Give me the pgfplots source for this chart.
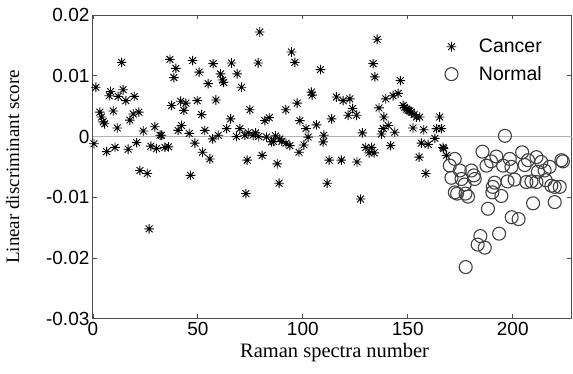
\documentclass[border=0pt]{standalone}
\usepackage{fontspec}
\setmainfont{Liberation Sans}
\newfontfamily\tnr{Liberation Serif}
\usepackage{pgfplots}
\pgfplotsset{compat=1.18}
\pgfdeclareplotmark{mstar}{%
  \pgfpathmoveto{\pgfpointpolar{0}{\pgfplotmarksize}}\pgfpathlineto{\pgfpointpolar{180}{\pgfplotmarksize}}%
  \pgfpathmoveto{\pgfpointpolar{45}{\pgfplotmarksize}}\pgfpathlineto{\pgfpointpolar{225}{\pgfplotmarksize}}%
  \pgfpathmoveto{\pgfpointpolar{90}{\pgfplotmarksize}}\pgfpathlineto{\pgfpointpolar{270}{\pgfplotmarksize}}%
  \pgfpathmoveto{\pgfpointpolar{135}{\pgfplotmarksize}}\pgfpathlineto{\pgfpointpolar{315}{\pgfplotmarksize}}%
  \pgfusepathqstroke}
\begin{document}
\begin{tikzpicture}
\useasboundingbox (-93pt,-55pt) rectangle (480.5pt,319pt);
\begin{axis}[
  at={(0pt,0pt)}, anchor=south west,
  scale only axis, width=479pt, height=304pt,
  xmin=0, xmax=228, ymin=-0.03, ymax=0.02,
  scaled y ticks=false,
  xtick={0,50,100,150,200},
  ytick={-0.03,-0.02,-0.01,0,0.01,0.02},
  yticklabels={-0.03,-0.02,-0.01,0,0.01,0.02},
  tick align=inside, major tick length=4.5pt,
  axis line style={black!70, line width=0.9pt},
  tick style={black!70, line width=0.8pt},
  ticklabel style={font=\fontsize{19}{22}\selectfont},
  /pgf/number format/assume math mode=true,
  xlabel={\tnr\fontsize{20.5}{24}\selectfont Raman spectra number},
  ylabel={\tnr\fontsize{19}{22}\selectfont Linear discriminant score},
  xlabel style={at={(axis description cs:0.505,-0.112)}, anchor=center},
  ylabel style={at={(axis description cs:-0.168,0.5)}, anchor=center},
  legend style={draw=none, fill=none, at={(axis description cs:0.729,0.934)}, anchor=north west,
    font=\fontsize{19.5}{22}\selectfont, row sep=8pt,
    /tikz/every odd column/.append style={column sep=19pt}},
  legend cell align=left,
]
\addplot[forget plot, black!30, line width=0.8pt] coordinates {(0,0) (228,0)};
\addplot[only marks, mark=mstar, mark size=4.8pt, mark options={black, line width=0.9pt}] coordinates {
(0.5,-0.0012) (1.4,0.0081) (3.3,0.0040) (4.1,0.0032) (4.9,0.0024) (5.6,0.0021) (6.5,-0.0025)
(7.8,0.0067) (8.4,0.0074) (9.7,0.0042) (10.5,-0.0018) (11.6,0.0014) (12.0,0.0066) (13.7,0.0122)
(14.4,0.0077) (15.7,0.0059) (16.8,-0.0021) (17.6,0.0027) (19.2,0.0037) (19.7,0.0066) (20.8,-0.0010)
(21.9,0.0040) (22.4,-0.0056) (24.0,0.0009) (25.9,-0.0061) (26.8,-0.0152) (27.6,-0.0016) (29.5,0.0016)
(30.3,-0.0020) (32.0,0.0002) (32.7,0.0002) (34.3,-0.0018) (36.0,-0.0017) (36.7,0.0127) (37.5,0.0051)
(38.6,0.0097) (39.5,0.0112) (40.6,0.0010) (41.8,0.0058) (42.2,0.0018) (43.3,0.0043) (44.3,0.0055)
(45.9,0.0005) (46.5,-0.0064) (47.5,0.0125) (48.6,-0.0011) (49.7,0.0059) (50.6,0.0106) (51.8,0.0036)
(52.2,-0.0026) (53.3,0.0010) (54.9,0.0087) (55.7,-0.0037) (57.0,-0.0004) (57.3,0.0120) (58.6,0.0060)
(59.7,0.0002) (60.8,0.0103) (61.7,0.0093) (62.3,0.0089) (63.7,0.0013) (65.6,0.0029) (66.0,0.0121)
(68.4,0.0000) (68.7,0.0103) (70.0,0.0013) (70.8,0.0081) (72.4,0.0002) (72.9,-0.0094) (73.5,-0.0039)
(74.0,0.0006) (74.8,0.0044) (76.3,0.0002) (77.5,0.0006) (78.7,0.0121) (79.0,0.0000) (79.5,0.0172)
(80.6,-0.0031) (81.9,0.0026) (82.7,-0.0001) (84.0,0.0031) (85.1,-0.0009) (86.0,-0.0008) (87.0,0.0001)
(87.8,-0.0045) (88.7,-0.0077) (89.0,-0.0004) (90.0,-0.0008) (91.9,0.0044) (92.0,-0.0011) (93.8,-0.0015)
(94.6,0.0139) (96.2,0.0122) (97.3,0.0055) (98.2,-0.0026) (98.6,0.0026) (100.5,-0.0014) (101.5,0.0013)
(102.5,-0.0001) (104.1,0.0073) (104.4,0.0068) (106.5,0.0019) (108.4,0.0110) (109.7,-0.0009) (110.0,0.0002)
(111.6,-0.0077) (112.5,-0.0039) (113.7,0.0029) (116.0,0.0065) (118.4,-0.0039) (119.2,0.0059) (121.6,0.0035)
(122.4,0.0062) (123.7,0.0046) (125.6,0.0035) (125.8,-0.0042) (127.5,-0.0103) (128.4,0.0006) (130.0,-0.0018)
(131.6,-0.0027) (132.7,-0.0018) (133.5,0.0120) (134.0,-0.0027) (134.3,0.0098) (135.4,0.0160) (136.3,0.0047)
(137.5,0.0004) (138.3,0.0013) (138.6,0.0032) (139.5,0.0062) (140.7,0.0018) (141.8,-0.0015) (143.0,0.0067)
(143.8,0.0007) (145.4,0.0071) (146.5,0.0092) (147.8,0.0051) (148.5,0.0048) (149.5,0.0045) (150.2,0.0043)
(151.0,0.0042) (151.7,0.0040) (152.5,0.0014) (153.0,0.0036) (154.1,0.0032) (155.4,-0.0034) (155.7,0.0032)
(156.5,-0.0011) (157.6,0.0011) (158.6,-0.0061) (159.7,-0.0013) (162.9,-0.0003) (163.7,0.0013) (165.2,0.0032)
(166.0,0.0013) (166.8,-0.0018) (167.1,-0.0020) (168.4,-0.0031)
};
\addlegendentry{Cancer}
\addplot[only marks, mark=o, mark size=6.5pt, mark options={black!75, line width=1.1pt}] coordinates {
(170.0,-0.0048) (170.8,-0.0068) (172.4,-0.0037) (172.4,-0.0092) (173.5,-0.0094) (174.8,-0.0056)
(175.6,-0.0070) (177.1,-0.0079) (177.6,-0.0215) (177.5,-0.0094) (178.7,-0.0099) (180.3,-0.0056)
(181.9,-0.0070) (181.5,-0.0064) (183.3,-0.0178) (184.6,-0.0164) (185.6,-0.0025) (186.7,-0.0183)
(187.5,-0.0048) (188.2,-0.0119) (189.7,-0.0041) (190.3,-0.0092) (190.5,-0.0083) (191.4,-0.0076)
(192.2,-0.0033) (193.5,-0.0160) (194.6,-0.0098) (195.4,-0.0048) (196.3,0.0001) (197.5,-0.0074)
(198.6,-0.0037) (199.5,-0.0133) (199.4,-0.0050) (200.9,-0.0071) (202.8,-0.0136) (204.5,-0.0026)
(205.7,-0.0047) (206.5,-0.0075) (207.3,-0.0039) (208.9,-0.0074) (209.7,-0.0110) (211.3,-0.0034)
(211.3,-0.0075) (212.0,-0.0058) (213.6,-0.0042) (215.2,-0.0056) (215.7,-0.0072) (217.6,-0.0050)
(218.4,-0.0081) (220.0,-0.0083) (220.0,-0.0108) (222.4,-0.0083) (223.2,-0.0039) (223.9,-0.0041)
};
\addlegendentry{Normal}
\end{axis}
\end{tikzpicture}
\end{document}
